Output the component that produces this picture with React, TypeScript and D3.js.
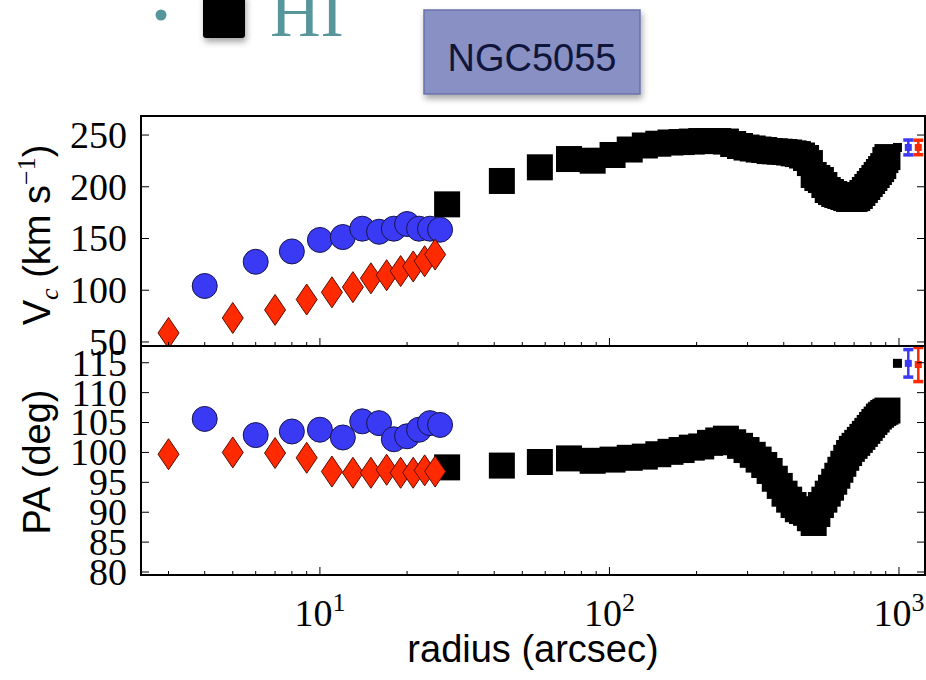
import * as d3 from "d3";

// HI rotation curve (black squares), radius in arcsec
const hiRadius = [
  27.5, 42.5, 57.5, 72.5, 87.5, 102.5, 117.5, 132.5, 147.5, 162.5,
  177.5, 192.5, 207.5, 222.5, 237.5, 252.5, 267.5, 282.5, 297.5, 312.5,
  327.5, 342.5, 357.5, 372.5, 387.5, 402.5, 417.5, 432.5, 447.5, 462.5,
  477.5, 492.5, 507.5, 522.5, 537.5, 552.5, 567.5, 582.5, 597.5, 612.5,
  627.5, 642.5, 657.5, 672.5, 687.5, 702.5, 717.5, 732.5, 747.5, 762.5,
  777.5, 792.5, 807.5, 822.5, 837.5, 852.5, 867.5, 882.5, 897.5, 912.5,
];
const hiVc = [
  183.0, 205.6, 218.8, 226.8, 225.2, 230.7, 236.0, 239.9, 241.6, 242.8,
  243.2, 243.7, 244.2, 244.2, 244.2, 243.7, 241.3, 239.4, 237.9, 237.0,
  236.0, 235.5, 234.5, 234.3, 233.9, 233.6, 233.1, 232.3, 231.6, 230.2,
  227.8, 222.9, 211.4, 208.5, 206.5, 201.7, 196.9, 194.9, 193.0, 192.0,
  191.1, 190.1, 189.1, 188.2, 188.2, 188.2, 189.1, 191.1, 194.0, 196.9,
  199.8, 202.7, 205.6, 208.5, 211.4, 214.3, 217.1, 220.0, 225.8, 228.7,
];
const hiPA = [
  97.5, 97.8, 98.4, 99.0, 98.6, 98.8, 99.1, 99.3, 99.7, 100.1,
  100.4, 100.8, 101.0, 101.6, 102.0, 102.3, 101.7, 101.1, 100.4, 99.6,
  98.8, 97.9, 96.9, 95.6, 94.4, 93.1, 92.1, 91.2, 90.5, 90.2,
  89.9, 89.0, 88.2, 89.7, 91.2, 92.1, 93.1, 94.1, 95.1, 96.1,
  97.1, 98.1, 99.1, 99.9, 100.6, 101.1, 101.6, 102.1, 102.6, 103.1,
  103.6, 104.1, 104.6, 105.1, 105.5, 106.0, 106.3, 106.6, 106.8, 107.0,
];

// blue circles
const blueRadius = [4, 6, 8, 10, 12, 14, 16, 18, 20, 22, 24, 26];
const blueVc = [104.1, 127.5, 137.5, 148.6, 151.4, 159.5, 156.5, 159.5, 164.0, 159.5, 159.5, 158.5];
const bluePA = [105.6, 102.9, 103.5, 103.8, 102.5, 105.2, 104.9, 102.2, 102.7, 103.8, 104.9, 104.6];

// red thin diamonds
const redRadius = [3, 5, 7, 9, 11, 13, 15, 17, 19, 21, 23, 25];
const redVc = [58.7, 73.2, 81.0, 91.0, 98.0, 103.0, 111.5, 114.5, 118.5, 123.0, 128.0, 134.5];
const redPA = [99.7, 100.0, 99.9, 99.1, 96.8, 96.6, 96.6, 97.1, 96.6, 96.6, 97.0, 96.8];

// mean values at the right edge: HI, blue, red
const meanRadius = [988, 1077, 1166];
const meanColor = ["#000000", "#3a3af5", "#ff2a00"];
const meanVc = [238, 238, 238];
const meanVcErr = [0, 7.2, 7.0];
const meanPA = [114.9, 114.9, 114.7];
const meanPAErr = [0, 2.3, 2.85];

const vcTicks = [50, 100, 150, 200, 250];
const paTicks = [80, 85, 90, 95, 100, 105, 110, 115];
const xMajor = [10, 100, 1000];
const xMinor = [3, 4, 5, 6, 7, 8, 9, 20, 30, 40, 50, 60, 70, 80, 90, 200, 300, 400, 500, 600, 700, 800, 900];
const xTickExp = ["1", "2", "3"];

const W = 926;
const H = 680;
const LEFT = 141;
const RIGHT = 925;
const TOP1 = 116;
const MID = 346;
const BOT2 = 575;

const SERIF = "'Liberation Serif', 'DejaVu Serif', serif";
const SANS = "'Liberation Sans', Arial, sans-serif";
const TEAL = "#57969b";

export default function App() {
  const x = d3.scaleLog().domain([2.41, 1230]).range([LEFT, RIGHT]);
  const yVc = d3.scaleLinear().domain([46.1, 268.4]).range([MID, TOP1]);
  const yPA = d3.scaleLinear().domain([79.5, 117.8]).range([BOT2, MID]);

  const sq = 26;
  const diamond = (cx: number, cy: number) =>
    `M${cx},${cy - 15.5}L${cx + 10.5},${cy}L${cx},${cy + 15.5}L${cx - 10.5},${cy}Z`;

  const panel = (
    y: d3.ScaleLinear<number, number>,
    ticks: number[],
    top: number,
    bottom: number,
    hiVals: number[],
    blueVals: number[],
    redVals: number[],
    mVals: number[],
    mErr: number[],
    key: string
  ) => (
    <g key={key}>
      <clipPath id={`clip-${key}`}>
        <rect x={LEFT} y={top} width={RIGHT - LEFT} height={bottom - top} />
      </clipPath>
      <g clipPath={`url(#clip-${key})`}>
        {hiRadius.map((r, i) => (
          <rect key={i} x={x(r) - sq / 2} y={y(hiVals[i]) - sq / 2} width={sq} height={sq} fill="#000" />
        ))}
        {blueRadius.map((r, i) => (
          <circle key={i} cx={x(r)} cy={y(blueVals[i])} r={12.5} fill="#3a3af5" stroke="#15154a" strokeWidth={1} />
        ))}
        {redRadius.map((r, i) => (
          <path key={i} d={diamond(x(r), y(redVals[i]))} fill="#ff2a00" stroke="#5a0c00" strokeWidth={1} />
        ))}
        {meanRadius.map((r, i) => {
          const cx = x(r);
          const cy = y(mVals[i]);
          const c = meanColor[i];
          if (mErr[i] === 0) {
            return <rect key={i} x={cx - 4.5} y={cy - 4.5} width={9} height={9} fill={c} />;
          }
          const y0 = y(mVals[i] - mErr[i]);
          const y1 = y(mVals[i] + mErr[i]);
          return (
            <g key={i} stroke={c}>
              <line x1={cx} x2={cx} y1={y0} y2={y1} strokeWidth={2.5} />
              <line x1={cx - 5} x2={cx + 5} y1={y0} y2={y0} strokeWidth={3.5} />
              <line x1={cx - 5} x2={cx + 5} y1={y1} y2={y1} strokeWidth={3.5} />
              <rect x={cx - 3.5} y={cy - 3.5} width={7} height={7} fill={c} strokeWidth={0} />
            </g>
          );
        })}
      </g>
      {/* y ticks, left and right, inward */}
      {ticks.map((t) => (
        <g key={t}>
          <line x1={LEFT} x2={LEFT + 8} y1={y(t)} y2={y(t)} stroke="#000" strokeWidth={1} />
          <line x1={RIGHT - 8} x2={RIGHT} y1={y(t)} y2={y(t)} stroke="#000" strokeWidth={1} />
          <text x={127} y={y(t)} dy="0.34em" textAnchor="end" fontFamily={SERIF} fontSize={38} fill="#000">
            {t}
          </text>
        </g>
      ))}
      {/* x ticks on the bottom edge only */}
      {xMajor.map((t) => (
        <line key={t} x1={x(t)} x2={x(t)} y1={bottom} y2={bottom - 8} stroke="#000" strokeWidth={1} />
      ))}
      {xMinor.map((t) => (
        <line key={t} x1={x(t)} x2={x(t)} y1={bottom} y2={bottom - 4} stroke="#000" strokeWidth={1} />
      ))}
      <rect x={LEFT} y={top} width={RIGHT - LEFT} height={bottom - top} fill="none" stroke="#000" strokeWidth={2} />
    </g>
  );

  return (
    <svg
      width={W}
      height={H}
      viewBox={`0 0 ${W} ${H}`}
      style={{ position: "absolute", left: 0, top: 0, display: "block", background: "#fff" }}
    >
      <defs>
        <filter id="shadow" x="-20%" y="-20%" width="150%" height="160%">
          <feDropShadow dx="1.5" dy="4" stdDeviation="3" floodColor="#000" floodOpacity="0.35" />
        </filter>
      </defs>

      {/* slide header */}
      <circle cx={161} cy={15} r={5.5} fill={TEAL} />
      <rect x={203} y={-6} width={42} height={44} rx={3} fill="#000" filter="url(#shadow)" />
      <text x={270} y={36} fontFamily={SERIF} fontSize={70} fill={TEAL}>
        HI
      </text>
      <rect x={424} y={10} width={216} height={84} fill="#8890c4" stroke="#6b72aa" strokeWidth={1.5} filter="url(#shadow)" />
      <text x={532} y={57} dy="0.36em" textAnchor="middle" fontFamily={SANS} fontSize={38} fill="#10153a">
        NGC5055
      </text>

      {panel(yVc, vcTicks, TOP1, MID, hiVc, blueVc, redVc, meanVc, meanVcErr, "vc")}
      {panel(yPA, paTicks, MID, BOT2, hiPA, bluePA, redPA, meanPA, meanPAErr, "pa")}

      {/* x tick labels */}
      {xMajor.map((t, i) => (
        <text key={t} x={x(t)} y={626} textAnchor="middle" fontFamily={SERIF} fontSize={38} fill="#000">
          10
          <tspan dy={-15} fontSize={26}>
            {xTickExp[i]}
          </tspan>
        </text>
      ))}

      <text x={(LEFT + RIGHT) / 2} y={662} textAnchor="middle" fontFamily={SANS} fontSize={38} fill="#000">
        radius (arcsec)
      </text>

      <text transform="translate(50,235) rotate(-90)" textAnchor="middle" fontFamily={SANS} fontSize={38} fill="#000">
        V
        <tspan fontFamily={SERIF} fontStyle="italic" fontSize={26} dy={8}>
          c
        </tspan>
        <tspan dy={-8}>{" (km s"}</tspan>
        <tspan fontFamily={SERIF} fontSize={26} dy={-15}>
          {"\u22121"}
        </tspan>
        <tspan dy={15}>)</tspan>
      </text>

      <text transform="translate(50,462) rotate(-90)" textAnchor="middle" fontFamily={SANS} fontSize={38} fill="#000">
        PA (deg)
      </text>
    </svg>
  );
}
